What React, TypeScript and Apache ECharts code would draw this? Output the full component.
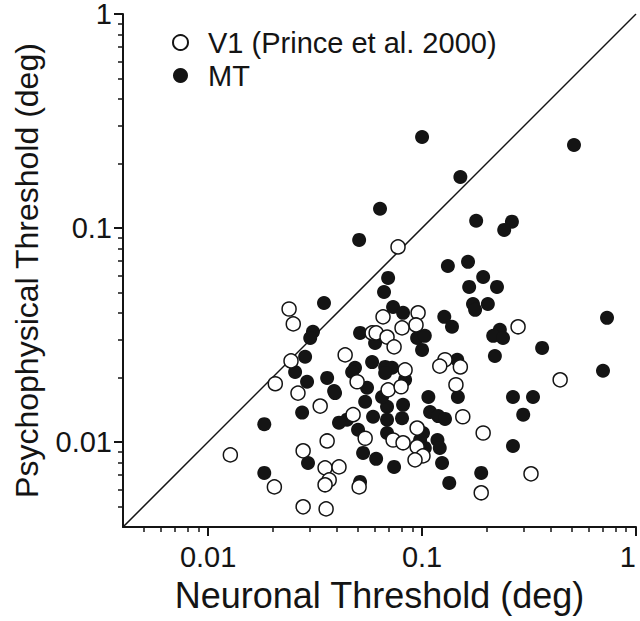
import React, { useEffect, useRef } from "react";
import * as echarts from "echarts";

// MT neurons (filled circles)
const mtNeuronal = [
  0.1, 0.513, 0.151, 0.0636, 0.179, 0.263, 0.242, 0.0508, 0.132, 0.164,
  0.193, 0.0694, 0.0664, 0.166, 0.224, 0.0348, 0.173, 0.177, 0.203, 0.0732,
  0.0815, 0.732, 0.127, 0.138, 0.231, 0.215, 0.239, 0.0309, 0.03, 0.0513,
  0.0603, 0.0948, 0.103, 0.1, 0.364, 0.0284, 0.219, 0.146, 0.0584, 0.0486,
  0.0672, 0.0724, 0.0255, 0.701, 0.036, 0.029, 0.0471, 0.0672, 0.0553, 0.0833,
  0.0388, 0.0542, 0.0686, 0.0815, 0.107, 0.109, 0.147, 0.266, 0.33, 0.297,
  0.059, 0.0446, 0.0686, 0.0806, 0.0502, 0.0686, 0.101, 0.118, 0.119, 0.128,
  0.0183, 0.0183, 0.0275, 0.0392, 0.065, 0.0409, 0.0979, 0.103, 0.121, 0.124,
  0.053, 0.061, 0.074, 0.134, 0.0293, 0.0513, 0.266, 0.189,
];
const mtPsycho = [
  0.266, 0.244, 0.173, 0.123, 0.108, 0.107, 0.0979, 0.0879, 0.0664, 0.0694,
  0.059, 0.0584, 0.0502, 0.053, 0.053, 0.0446, 0.0441, 0.0414, 0.0441, 0.0427,
  0.0401, 0.038, 0.0384, 0.0345, 0.0334, 0.0313, 0.0306, 0.0327, 0.0306, 0.0323,
  0.029, 0.0306, 0.0313, 0.0269, 0.0275, 0.025, 0.0252, 0.0242, 0.0236, 0.0222,
  0.0224, 0.0222, 0.0212, 0.0215, 0.0199, 0.0191, 0.0212, 0.021, 0.0179, 0.0195,
  0.0173, 0.0154, 0.0146, 0.0149, 0.0162, 0.0138, 0.0162, 0.0162, 0.0162, 0.0134,
  0.0131, 0.0127, 0.0127, 0.0129, 0.0114, 0.011, 0.011, 0.0102, 0.0132, 0.0128,
  0.0121, 0.00716, 0.0137, 0.0169, 0.0162, 0.0123, 0.0102, 0.00937, 0.00937, 0.00797,
  0.00888, 0.00833, 0.00764, 0.00643, 0.00797, 0.0065, 0.00957, 0.00716,
];

// V1 neurons, Prince et al. 2000 (open circles)
const v1Neuronal = [
  0.0772, 0.0239, 0.025, 0.0244, 0.0206, 0.0263, 0.0958, 0.0657, 0.0937, 0.0806,
  0.0584, 0.061, 0.0686, 0.074, 0.0437, 0.128, 0.121, 0.151, 0.0833, 0.0497,
  0.0694, 0.0798, 0.144, 0.281, 0.442, 0.0127, 0.0204, 0.0278, 0.0278, 0.0334,
  0.0476, 0.0542, 0.0732, 0.0815, 0.0948, 0.0948, 0.101, 0.0927, 0.155, 0.193,
  0.323, 0.189, 0.036, 0.0352, 0.0409, 0.0368, 0.0352, 0.0508, 0.0356,
];
const v1Psycho = [
  0.0815, 0.0418, 0.0356, 0.0239, 0.0187, 0.0169, 0.0401, 0.0384, 0.0352, 0.0341,
  0.0323, 0.0323, 0.0309, 0.0278, 0.0255, 0.0242, 0.0226, 0.0224, 0.0217, 0.0191,
  0.0175, 0.0181, 0.0185, 0.0345, 0.0195, 0.00869, 0.00616, 0.00908, 0.00497, 0.0147,
  0.0134, 0.0104, 0.0102, 0.0099, 0.0116, 0.00948, 0.0086, 0.00824, 0.0131, 0.011,
  0.00709, 0.00578, 0.0101, 0.00756, 0.00764, 0.00664, 0.0063, 0.00616, 0.00486,
];

const seriesNames = ["V1 (Prince et al. 2000)", "MT"];
const xTitle = "Neuronal Threshold (deg)";
const yTitle = "Psychophysical Threshold (deg)";
const axisMin = 0.004;
const axisMax = 1;
const majorTicks = [0.01, 0.1, 1];
const majorTickLabels = ["0.01", "0.1", "1"];
const minorTicks = [
  0.005, 0.006, 0.007, 0.008, 0.009,
  0.02, 0.03, 0.04, 0.05, 0.06, 0.07, 0.08, 0.09,
  0.2, 0.3, 0.4, 0.5, 0.6, 0.7, 0.8, 0.9,
];
const diagonal = [
  [axisMin, axisMin],
  [axisMax, axisMax],
];

const FONT = "Liberation Sans, Arial, Helvetica, sans-serif";
const INK = "#141414";

function fmtTick(v: number): string {
  for (let i = 0; i < majorTicks.length; i++) {
    if (Math.abs(Math.log10(v) - Math.log10(majorTicks[i])) < 1e-6) return majorTickLabels[i];
  }
  return "";
}

function zip(a: number[], b: number[]) {
  return a.map((v, i) => [v, b[i]]);
}

function makeAxes(dim: "x" | "y") {
  const isX = dim === "x";
  const main: any = {
    type: "log",
    logBase: 10,
    min: axisMin,
    max: axisMax,
    position: isX ? "bottom" : "left",
    axisLine: { show: true, lineStyle: { color: INK, width: 2 } },
    axisTick: {
      show: true,
      inside: false,
      customValues: majorTicks,
      length: 9,
      lineStyle: { color: INK, width: 2 },
    },
    axisLabel: {
      show: true,
      customValues: majorTicks,
      formatter: fmtTick,
      fontSize: 29,
      lineHeight: isX ? 32 : 24,
      fontFamily: FONT,
      color: INK,
      margin: isX ? 14 : 11,
      alignMaxLabel: isX ? "right" : null,
    },
    splitLine: { show: false },
    minorTick: { show: false },
    name: isX ? xTitle : yTitle,
    nameLocation: "middle",
    nameGap: isX ? 50 : 80,
    nameTextStyle: { fontSize: isX ? 36 : 32, fontFamily: FONT, color: INK },
  };
  const minor: any = {
    type: "log",
    logBase: 10,
    min: axisMin,
    max: axisMax,
    position: isX ? "bottom" : "left",
    axisLine: { show: false },
    axisTick: {
      show: true,
      inside: false,
      customValues: minorTicks,
      length: 5,
      lineStyle: { color: INK, width: 1.5 },
    },
    axisLabel: { show: false },
    splitLine: { show: false },
  };
  return [main, minor];
}

export default function App() {
  const ref = useRef<HTMLDivElement>(null);
  useEffect(() => {
    if (!ref.current) return;
    const chart = echarts.init(ref.current, null, { renderer: "svg" });
    chart.setOption({
      animation: false,
      backgroundColor: "#ffffff",
      grid: {
        left: 123,
        top: 14,
        width: 513,
        height: 513,
        containLabel: false,
        outerBoundsMode: "none",
      },
      legend: {
        data: [
          { name: seriesNames[0], icon: "circle" },
          { name: seriesNames[1], icon: "circle" },
        ],
        orient: "vertical",
        left: 167,
        top: 23,
        itemWidth: 45,
        itemHeight: 15,
        itemGap: 4,
        selectedMode: false,
        textStyle: { fontSize: 29, fontFamily: FONT, color: INK },
      },
      xAxis: makeAxes("x"),
      yAxis: makeAxes("y"),
      series: [
        {
          name: "diagonal",
          type: "line",
          data: diagonal,
          showSymbol: false,
          symbol: "none",
          silent: true,
          lineStyle: { color: INK, width: 1.5 },
          z: 1,
        },
        {
          name: seriesNames[1],
          type: "scatter",
          data: zip(mtNeuronal, mtPsycho),
          symbol: "circle",
          symbolSize: 14,
          itemStyle: { color: INK, opacity: 1 },
          z: 2,
        },
        {
          name: seriesNames[0],
          type: "scatter",
          data: zip(v1Neuronal, v1Psycho),
          symbol: "circle",
          symbolSize: 14,
          itemStyle: { color: "#ffffff", borderColor: INK, borderWidth: 1.5, opacity: 1 },
          z: 3,
        },
      ],
    });
    return () => chart.dispose();
  }, []);
  return (
    <div
      ref={ref}
      style={{ position: "fixed", left: 0, top: 0, width: 640, height: 621, background: "#fff" }}
    />
  );
}
